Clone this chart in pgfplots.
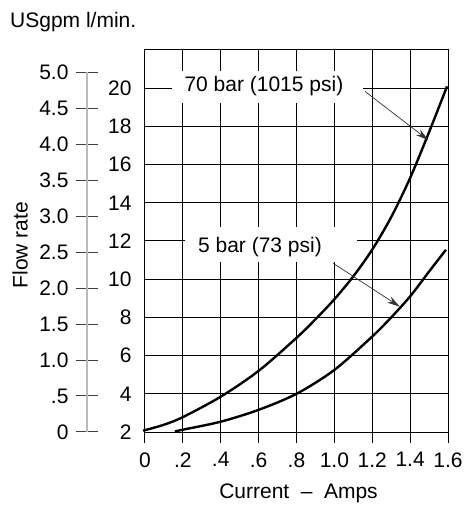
\documentclass[border=0pt]{standalone}
\usepackage{pgfplots}
\pgfplotsset{compat=1.18}
\usepackage{fontspec}
\setmainfont{Liberation Sans}
\usetikzlibrary{arrows.meta}
\begin{document}
\begin{tikzpicture}[font=\fontsize{21}{25}\selectfont]
% secondary scale (USgpm)
\begin{axis}[
  at={(-58pt,0pt)}, anchor=south west, scale only axis, width=10pt, height=360pt,
  xmin=0, xmax=1, ymin=0, ymax=5,
  hide x axis, axis y line*=left,
  y axis line style={gray!55, line width=1.5pt, -},
  ytick={0,0.5,1,1.5,2,2.5,3,3.5,4,4.5,5},
  yticklabels={0,.5,1.0,1.5,2.0,2.5,3.0,3.5,4.0,4.5,5.0},
  tick align=center, major tick length=22pt,
  ytick style={black!75, line width=1pt},
  yticklabel style={anchor=east, xshift=-4pt},
]
\addplot[draw=none] coordinates {(0,0)};
\end{axis}
% main axis
\begin{axis}[
  at={(0pt,0pt)}, anchor=south west,
  scale only axis, width=303pt, height=382pt,
  xmin=0, xmax=1.6, ymin=2, ymax=22,
  xtick={0,0.2,0.4,0.6,0.8,1.0,1.2,1.4,1.6},
  xticklabels={0,.2,.4,.6,.8,1.0,1.2,1.4,1.6},
  ytick={2,4,6,8,10,12,14,16,18,20},
  yticklabels={2,4,6,8,10,12,14,16,18,20},
  grid=major, major grid style={black, line width=1pt},
  axis line style={black, line width=1pt},
  tick pos=left, tick align=outside, major tick length=11pt,
  xtick style={black, line width=1pt},
  ytick style={draw=none},
  yticklabel style={anchor=east, xshift=1pt},
  xticklabel style={yshift=-6pt},
  xlabel={Current\hspace{0.55em}--\hspace{0.55em}Amps},
  xlabel style={at={(axis description cs:0.5,0)}, anchor=center, yshift=-61pt, xshift=2pt},
  clip=false,
]
\addplot[black, line width=2.4pt, smooth] coordinates {
(-0.01,2.07) (0.1,2.38) (0.2,2.78) (0.4,3.85) (0.6,5.2) (0.8,6.93) (0.9,7.9)
(1.0,8.95) (1.1,10.15) (1.2,11.55) (1.3,13.25) (1.4,15.3) (1.5,17.7) (1.595,20.1)};
\addplot[black, line width=2.4pt, smooth] coordinates {
(0.158,2.03) (0.2,2.12) (0.4,2.54) (0.6,3.16) (0.8,4.0) (1.0,5.25)
(1.2,7.0) (1.3,8.0) (1.4,9.1) (1.5,10.4) (1.589,11.54)};
\fill[white] (axis cs:0.1426,19.21) rectangle (axis cs:1.151,20.89);
\node at (axis cs:0.628,20.1) {70 bar (1015 psi)};
\fill[white] (axis cs:0.2112,10.89) rectangle (axis cs:1.119,12.74);
\node at (axis cs:0.607,11.68) {5 bar (73 psi)};
\draw[-{Stealth[length=13pt,width=7pt]}, black!80, line width=0.7pt]
  (axis cs:1.162,19.83) -- (axis cs:1.496,17.28);
\draw[-{Stealth[length=13pt,width=7pt]}, black!80, line width=0.7pt]
  (axis cs:0.994,10.83) -- (axis cs:1.346,8.56);
\end{axis}
\node[anchor=base west, inner sep=0pt] at (-135pt,404pt) {USgpm l/min.};
\node[rotate=90] at (-125pt,187pt) {Flow rate};
\pgfresetboundingbox
\path[use as bounding box] (-145pt,-74pt) rectangle (324pt,432pt);
\end{tikzpicture}
\end{document}
